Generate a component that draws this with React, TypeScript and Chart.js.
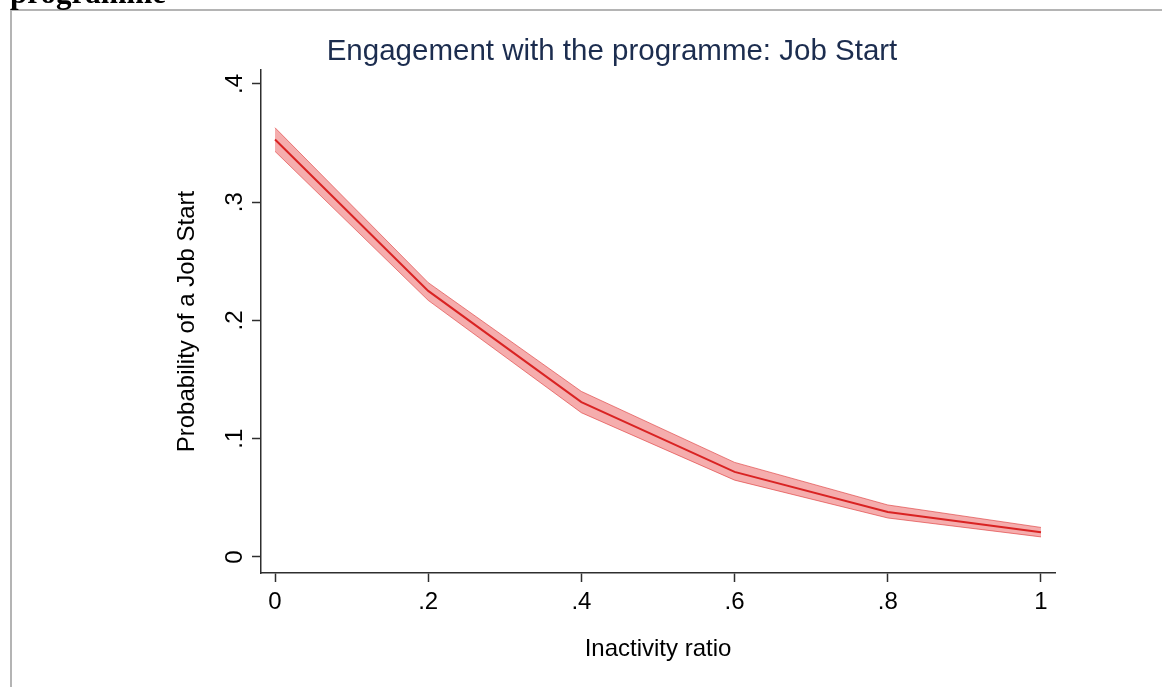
import React, { useEffect, useRef } from "react";
import { Chart, registerables } from "chart.js";

Chart.register(...registerables);

// Predicted probability of a job start by inactivity ratio, with confidence band
const inactivityRatio = [0, 0.2, 0.4, 0.6, 0.8, 1];
const probability = [0.353, 0.225, 0.131, 0.072, 0.038, 0.021];
const upperBound = [0.363, 0.232, 0.140, 0.080, 0.044, 0.025];
const lowerBound = [0.343, 0.217, 0.122, 0.065, 0.033, 0.017];

const xTickValues = [0, 0.2, 0.4, 0.6, 0.8, 1];
const xTickLabels = ["0", ".2", ".4", ".6", ".8", "1"];
const yTickValues = [0, 0.1, 0.2, 0.3, 0.4];
const yTickLabels = ["0", ".1", ".2", ".3", ".4"];

const chartTitle = "Engagement with the programme: Job Start";
const headingText = "programme";
const xAxisTitle = "Inactivity ratio";
const yAxisTitle = "Probability of a Job Start";

const FONT = '"Liberation Sans", Arial, sans-serif';
const BAND_EDGE = "rgba(220, 50, 50, 0.6)";
const BAND_FILL = "rgba(230, 50, 50, 0.4)";
const LINE_RED = "#d92323";
const AXIS_COLOR = "#2e2e2e";

const toPoints = (ys: number[]) => inactivityRatio.map((x, i) => ({ x, y: ys[i] }));

// Page frame, heading fragment, chart title and rotated y tick labels
const decorations = {
  id: "decorations",
  beforeDraw(chart: any) {
    const { ctx } = chart;
    ctx.save();
    ctx.fillStyle = "#ffffff";
    ctx.fillRect(0, 0, chart.width, chart.height);
    ctx.fillStyle = "#b4b4b4";
    ctx.fillRect(10, 9, chart.width - 10, 2);
    ctx.fillRect(10, 9, 2, chart.height - 9);
    ctx.fillStyle = "#000000";
    ctx.font = 'bold 31px "Liberation Serif", "Times New Roman", serif';
    ctx.textAlign = "left";
    ctx.textBaseline = "alphabetic";
    ctx.fillText(headingText, 10, 3);
    ctx.restore();
  },
  afterDraw(chart: any) {
    const { ctx } = chart;
    ctx.save();
    ctx.fillStyle = "#1c2d4f";
    ctx.font = `29.5px ${FONT}`;
    ctx.textAlign = "center";
    ctx.textBaseline = "alphabetic";
    ctx.fillText(chartTitle, 612, 60);

    const yScale = chart.scales.y;
    ctx.fillStyle = "#000000";
    ctx.font = `24px ${FONT}`;
    yTickValues.forEach((v, i) => {
      const py = yScale.getPixelForValue(v);
      ctx.save();
      ctx.translate(242, py);
      ctx.rotate(-Math.PI / 2);
      ctx.textAlign = "center";
      ctx.textBaseline = "alphabetic";
      ctx.fillText(yTickLabels[i], 0, 0);
      ctx.restore();
    });
    ctx.restore();
  },
};

export default function App() {
  const canvasRef = useRef<HTMLCanvasElement | null>(null);

  useEffect(() => {
    const canvas = canvasRef.current;
    if (!canvas) return;
    const chart = new Chart(canvas, {
      type: "line",
      data: {
        datasets: [
          {
            label: "Probability",
            data: toPoints(probability),
            borderColor: LINE_RED,
            borderWidth: 2,
            pointRadius: 0,
            fill: false,
            tension: 0,
            order: 0,
          },
          {
            label: "Upper bound",
            data: toPoints(upperBound),
            borderColor: BAND_EDGE,
            borderWidth: 1,
            pointRadius: 0,
            backgroundColor: BAND_FILL,
            fill: "+1",
            tension: 0,
            order: 1,
          },
          {
            label: "Lower bound",
            data: toPoints(lowerBound),
            borderColor: BAND_EDGE,
            borderWidth: 1,
            pointRadius: 0,
            fill: false,
            tension: 0,
            order: 2,
          },
        ],
      },
      options: {
        responsive: false,
        animation: false,
        devicePixelRatio: 1,
        layout: { padding: { left: 0, top: 70, right: 107, bottom: 0 } },
        plugins: {
          legend: { display: false },
          title: { display: false },
          tooltip: { enabled: false },
        },
        scales: {
          x: {
            type: "linear",
            min: -0.0183,
            max: 1.0183,
            afterBuildTicks: (scale: any) => {
              scale.ticks = xTickValues.map((value) => ({ value }));
            },
            afterFit: (scale: any) => {
              scale.height = 114;
            },
            ticks: {
              autoSkip: false,
              maxRotation: 0,
              minRotation: 0,
              padding: 6,
              color: "#000000",
              font: { family: FONT, size: 24 },
              callback: (value: any) => {
                const idx = xTickValues.findIndex((v) => Math.abs(v - Number(value)) < 1e-9);
                return idx >= 0 ? xTickLabels[idx] : "";
              },
            },
            grid: {
              display: true,
              drawOnChartArea: false,
              drawTicks: true,
              tickLength: 9,
              tickColor: AXIS_COLOR,
              tickWidth: 1.5,
            },
            border: { display: true, color: AXIS_COLOR, width: 1.5 },
            title: {
              display: true,
              text: xAxisTitle,
              color: "#000000",
              font: { family: FONT, size: 24 },
              padding: { top: 0, bottom: 23 },
            },
          },
          y: {
            type: "linear",
            min: -0.01353,
            max: 0.4118,
            afterBuildTicks: (scale: any) => {
              scale.ticks = yTickValues.map((value) => ({ value }));
            },
            afterFit: (scale: any) => {
              scale.width = 261;
            },
            ticks: { display: false },
            grid: {
              display: true,
              drawOnChartArea: false,
              drawTicks: true,
              tickLength: 9,
              tickColor: AXIS_COLOR,
              tickWidth: 1.5,
            },
            border: { display: true, color: AXIS_COLOR, width: 1.5 },
            title: {
              display: true,
              text: yAxisTitle,
              color: "#000000",
              font: { family: FONT, size: 24 },
              padding: { top: 173, bottom: 0 },
            },
          },
        },
      },
      plugins: [decorations],
    });
    return () => chart.destroy();
  }, []);

  return (
    <div style={{ position: "absolute", left: 0, top: 0, width: 1162, height: 687 }}>
      <canvas ref={canvasRef} width={1162} height={687} style={{ display: "block" }} />
    </div>
  );
}
